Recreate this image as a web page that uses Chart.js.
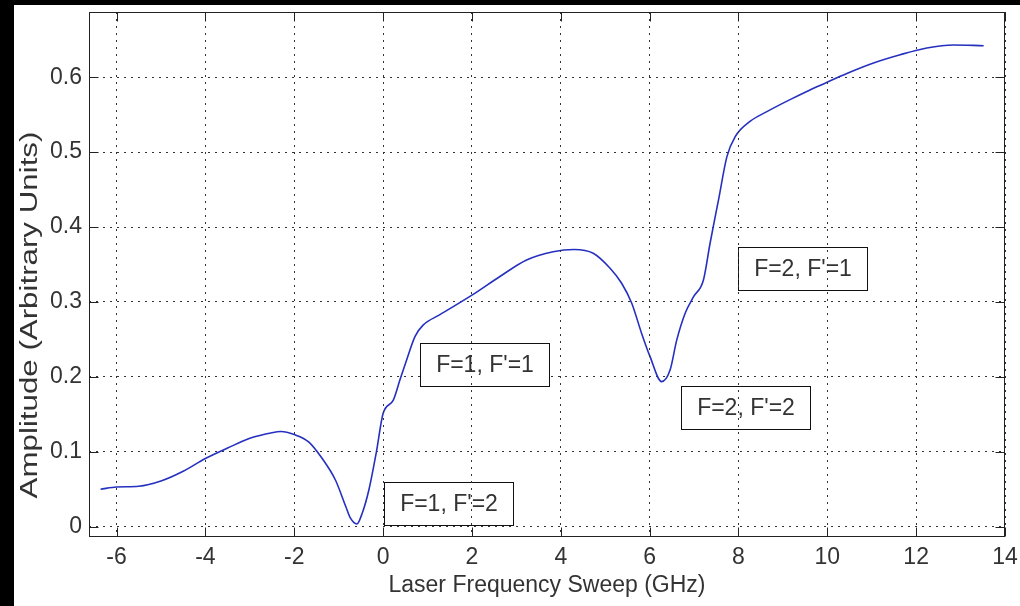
<!DOCTYPE html>
<html>
<head>
<meta charset="utf-8">
<title>Laser Frequency Sweep</title>
<script src="https://cdn.jsdelivr.net/npm/chart.js@4/dist/chart.umd.min.js"></script>
<style>
  html, body { margin: 0; padding: 0; background: #000; }
  #wrap {
    position: absolute; left: 14px; top: 5px;
    width: 1006px; height: 601px; background: #fff;
  }
</style>
</head>
<body>
<div id="wrap"><canvas id="sweep" width="1006" height="601"></canvas></div>
<script>
// sweep points (GHz) and measured amplitude
const freq = [
  -6.36, -6.0, -5.5, -5.0, -4.5, -4.0, -3.5, -3.0, -2.5, -2.3, -2.0, -1.67,
  -1.37, -1.07, -0.84, -0.73, -0.59, -0.47, -0.32, -0.15, 0.0, 0.23, 0.38,
  0.53, 0.72, 0.9, 1.28, 2.0, 2.63, 3.23, 3.83, 4.3, 4.73, 5.11, 5.37, 5.6,
  5.82, 6.01, 6.27, 6.46, 6.61, 6.8, 6.99, 7.21, 7.36, 7.48, 7.55, 7.74,
  7.93, 8.26, 8.64, 9.16, 9.61, 9.95, 10.44, 11.04, 11.64, 12.24, 12.84, 13.52,
];
const amp = [
  0.050, 0.053, 0.054, 0.061, 0.074, 0.091, 0.105, 0.118, 0.1255, 0.127, 0.123, 0.113,
  0.091, 0.062, 0.027, 0.011, 0.0036, 0.018, 0.049, 0.100, 0.151, 0.169, 0.196,
  0.2226, 0.254, 0.269, 0.283, 0.309, 0.334, 0.356, 0.367, 0.370, 0.365, 0.345, 0.325, 0.298,
  0.258, 0.227, 0.1936, 0.209, 0.249, 0.285, 0.307, 0.329, 0.378, 0.415, 0.436, 0.494,
  0.521, 0.541, 0.554, 0.570, 0.583, 0.592, 0.605, 0.619, 0.630, 0.639, 0.643, 0.642,
];

const xTicks = [-6, -4, -2, 0, 2, 4, 6, 8, 10, 12, 14];
const yTicks = [0, 0.1, 0.2, 0.3, 0.4, 0.5, 0.6];

// hyperfine transition labels
const noteText = ["F=1, F'=2", "F=1, F'=1", "F=2, F'=2", "F=2, F'=1"];
const noteX = [0.03, 0.83, 6.70, 7.98];
const noteY = [0.0593, 0.2457, 0.1879, 0.3738];

const FONT = '23px "Liberation Sans", Arial, Helvetica, sans-serif';
const INK = '#333';
const TICK = 9;

const matlabBox = {
  id: 'matlabBox',
  afterDatasetsDraw(chart) {
    const { ctx, scales: { x, y } } = chart;
    ctx.save();
    ctx.font = FONT;
    ctx.textBaseline = 'middle';
    ctx.textAlign = 'center';
    noteText.forEach((t, i) => {
      const bx = Math.round(x.getPixelForValue(noteX[i])) + 0.5;
      const by = Math.round(y.getPixelForValue(noteY[i])) + 0.5;
      const w = Math.round(ctx.measureText(t).width + 31);
      const h = 43;
      ctx.fillStyle = '#fff';
      ctx.fillRect(bx, by, w, h);
      ctx.strokeStyle = '#111';
      ctx.lineWidth = 1;
      ctx.strokeRect(bx, by, w, h);
      ctx.fillStyle = INK;
      ctx.fillText(t, bx + w / 2, by + h / 2 + 1);
    });
    ctx.restore();
  },
  afterDraw(chart) {
    const { ctx, chartArea: a, scales: { x, y } } = chart;
    const l = Math.round(a.left) + 0.5, r = Math.round(a.right) - 0.5;
    const t = Math.round(a.top) + 0.5, b = Math.round(a.bottom) - 0.5;
    ctx.save();
    ctx.strokeStyle = '#222';
    ctx.lineWidth = 1;
    ctx.strokeRect(l, t, r - l, b - t);

    // ticks point inward on all four sides
    ctx.beginPath();
    xTicks.forEach(v => {
      const px = Math.round(x.getPixelForValue(v)) + 0.5;
      ctx.moveTo(px, b); ctx.lineTo(px, b - TICK);
      ctx.moveTo(px, t); ctx.lineTo(px, t + TICK);
    });
    yTicks.forEach(v => {
      const py = Math.round(y.getPixelForValue(v)) + 0.5;
      ctx.moveTo(l, py); ctx.lineTo(l + TICK, py);
      ctx.moveTo(r, py); ctx.lineTo(r - TICK, py);
    });
    ctx.stroke();

    // y axis title, rotated and drawn a bit wider than the tick text
    ctx.font = FONT;
    ctx.fillStyle = INK;
    ctx.textAlign = 'center';
    ctx.textBaseline = 'middle';
    ctx.translate(17, 310);
    ctx.rotate(-Math.PI / 2);
    ctx.scale(1.36, 1);
    ctx.fillText('Amplitude (Arbitrary Units)', 0, 0);
    ctx.restore();
  },
};

const tickFont = { family: '"Liberation Sans", Arial, Helvetica, sans-serif', size: 23 };

new Chart(document.getElementById('sweep'), {
  type: 'line',
  data: {
    datasets: [{
      data: freq.map((f, i) => ({ x: f, y: amp[i] })),
      borderColor: '#2530c0',
      borderWidth: 1.6,
      pointRadius: 0,
      fill: false,
      cubicInterpolationMode: 'monotone',
    }],
  },
  options: {
    responsive: false,
    animation: false,
    layout: { padding: { top: 7, right: 15, left: 0, bottom: 0 } },
    plugins: { legend: { display: false }, tooltip: { enabled: false } },
    scales: {
      x: {
        type: 'linear',
        min: -6.62,
        max: 14,
        afterBuildTicks: s => { s.ticks = xTicks.map(v => ({ value: v })); },
        afterFit: s => { s.height = 69; s.paddingLeft = 0; s.paddingRight = 0; },
        ticks: { font: tickFont, color: INK, padding: 7, maxRotation: 0, autoSkip: false, callback: v => String(v) },
        grid: { color: '#333', lineWidth: 1, drawTicks: false, z: 1 },
        border: { display: false, dash: [2, 5] },
        title: {
          display: true,
          text: 'Laser Frequency Sweep (GHz)',
          font: tickFont,
          color: INK,
          padding: { top: 0, bottom: 7 },
        },
      },
      y: {
        type: 'linear',
        min: -0.01375,
        max: 0.687,
        afterBuildTicks: s => { s.ticks = yTicks.map(v => ({ value: v })); },
        afterFit: s => { s.width = 75; s.paddingTop = 0; s.paddingBottom = 0; },
        ticks: { font: tickFont, color: INK, padding: 7, autoSkip: false, callback: v => String(v) },
        grid: { color: '#333', lineWidth: 1, drawTicks: false },
        border: { display: false, dash: [2, 5] },
      },
    },
  },
  plugins: [matlabBox],
});
</script>
</body>
</html>
